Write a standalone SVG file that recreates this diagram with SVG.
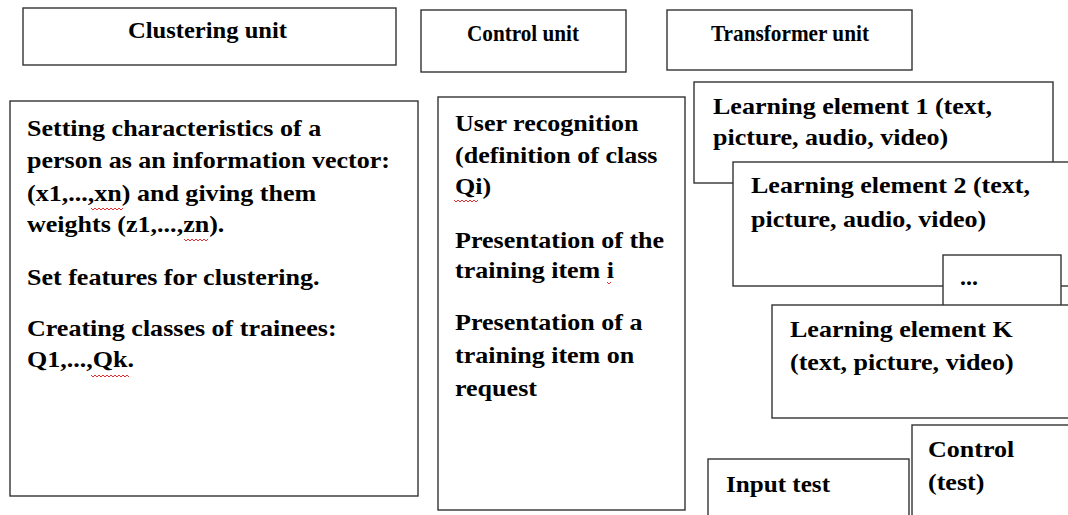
<svg xmlns="http://www.w3.org/2000/svg" width="1068" height="515" viewBox="0 0 1068 515">
<style>
.box{fill:#fff;stroke:#333;stroke-width:1.4}
.t{font-family:"Liberation Serif","Times New Roman",serif;font-weight:bold;font-size:24px;fill:#000}
.sq{fill:none;stroke:#e03030;stroke-width:1}
</style>
<g id="clustering-title"><rect class="box" x="23" y="8" width="373" height="57"/><text class="t" x="128" y="38" textLength="159" lengthAdjust="spacingAndGlyphs">Clustering unit</text></g>
<g id="control-title"><rect class="box" x="421" y="10" width="205" height="62"/><text class="t" x="467" y="41" textLength="112" lengthAdjust="spacingAndGlyphs">Control unit</text></g>
<g id="transformer-title"><rect class="box" x="667" y="10" width="245" height="60"/><text class="t" x="711" y="41" textLength="158" lengthAdjust="spacingAndGlyphs">Transformer unit</text></g>
<g id="clustering-body"><rect class="box" x="10" y="101" width="408" height="395"/>
<g transform="translate(27 0) scale(1.085 1) translate(-27 0)">
<text class="t" x="27" y="136">Setting characteristics  of a</text>
<text class="t" x="27" y="168">person as an information  vector:</text>
<text class="t" x="27" y="201">(x1,...,xn) and giving  them</text>
<text class="t" x="27" y="232">weights (z1,...,zn).</text>
<text class="t" x="27" y="285">Set features for clustering.</text>
<text class="t" x="27" y="336">Creating classes  of trainees:</text>
<text class="t" x="27" y="367">Q1,...,Qk.</text>
</g>
<path class="sq" d="M91 208l2 2 2-2 2 2 2-2 2 2 2-2 2 2 2-2 2 2 2-2 2 2 2-2 2 2 2-2 2 2 2-2"/>
<path class="sq" d="M184 239l2 2 2-2 2 2 2-2 2 2 2-2 2 2 2-2 2 2 2-2 2 2 2-2"/>
<path class="sq" d="M91 375l2 2 2-2 2 2 2-2 2 2 2-2 2 2 2-2 2 2 2-2 2 2 2-2 2 2 2-2 2 2 2-2 2 2 2-2 2 2"/>
</g>
<g id="control-body"><rect class="box" x="438" y="97" width="247" height="413"/>
<g transform="translate(455 0) scale(1.085 1) translate(-455 0)">
<text class="t" x="455" y="131">User recognition</text>
<text class="t" x="455" y="163">(definition of class</text>
<text class="t" x="455" y="194">Qi)</text>
<text class="t" x="455" y="248">Presentation of the</text>
<text class="t" x="455" y="278">training item i</text>
<text class="t" x="455" y="330">Presentation of a</text>
<text class="t" x="455" y="363">training item on</text>
<text class="t" x="455" y="396">request</text>
</g>
<path class="sq" d="M454 200l2 2 2-2 2 2 2-2 2 2 2-2 2 2 2-2 2 2 2-2 2 2 2-2"/>
<path class="sq" d="M607 282l2 2 2-2"/>
</g>
<g id="learning-element-1"><rect class="box" x="694" y="82" width="359" height="101"/>
<g transform="translate(713 0) scale(1.085 1) translate(-713 0)">
<text class="t" x="713" y="114">Learning element 1 (text,</text>
<text class="t" x="713" y="145">picture, audio, video)</text></g></g>
<g id="learning-element-2"><rect class="box" x="733" y="162" width="345" height="124"/>
<g transform="translate(751 0) scale(1.085 1) translate(-751 0)">
<text class="t" x="751" y="193">Learning element 2 (text,</text>
<text class="t" x="751" y="227">picture, audio, video)</text></g></g>
<g id="ellipsis"><rect class="box" x="943" y="255" width="118" height="70"/>
<text class="t" x="960" y="285">...</text></g>
<g id="learning-element-k"><rect class="box" x="772" y="305" width="306" height="113"/>
<g transform="translate(790 0) scale(1.085 1) translate(-790 0)">
<text class="t" x="790" y="337">Learning element K</text>
<text class="t" x="790" y="370">(text, picture, video)</text></g></g>
<g id="input-test"><rect class="box" x="708" y="459" width="201" height="70"/>
<text class="t" x="726" y="492" textLength="104" lengthAdjust="spacingAndGlyphs">Input test</text></g>
<g id="control-test"><rect class="box" x="912" y="425" width="166" height="100"/>
<g transform="translate(928 0) scale(1.085 1) translate(-928 0)">
<text class="t" x="928" y="457">Control</text>
<text class="t" x="928" y="490">(test)</text></g></g>
<g id="connectors"></g>
</svg>
